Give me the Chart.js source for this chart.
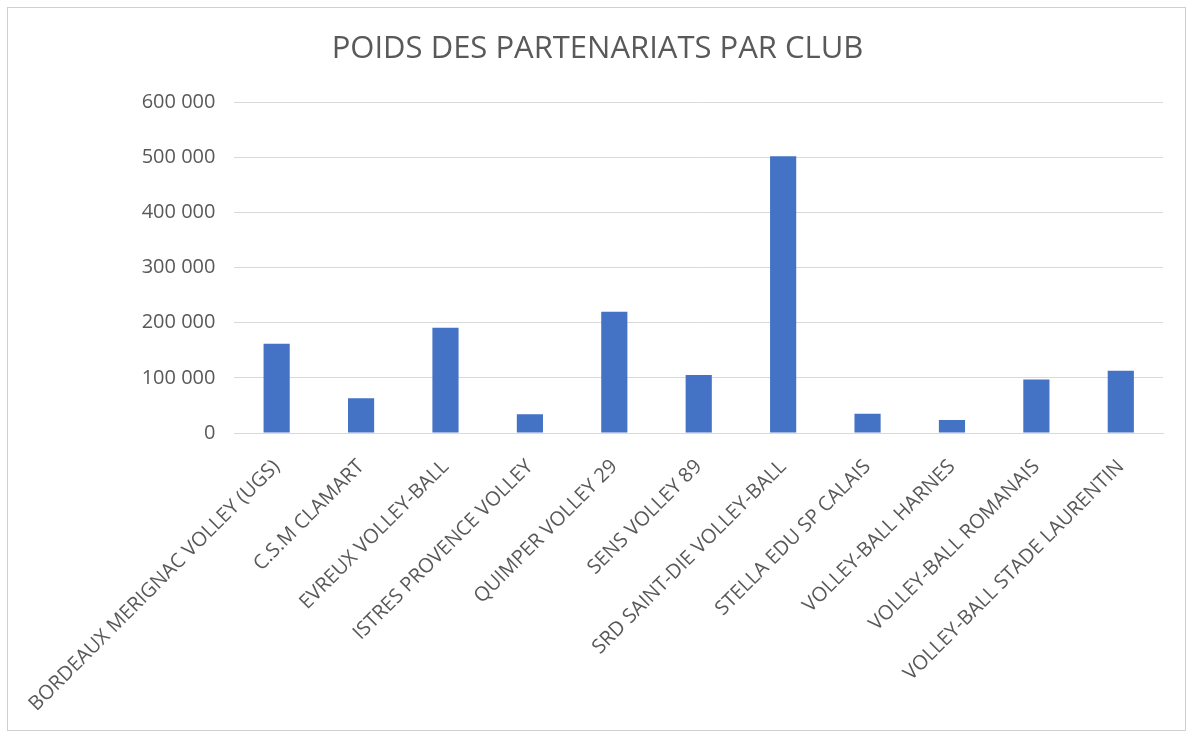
<!DOCTYPE html>
<html>
<head>
<meta charset="utf-8">
<script src="https://cdn.jsdelivr.net/npm/chart.js@4/dist/chart.umd.min.js"></script>
<style>
  html, body { margin: 0; padding: 0; background: #ffffff; }
  #wrap { position: relative; width: 1192px; height: 737px; }
</style>
</head>
<body>
<div id="wrap"><canvas id="c" width="1192" height="737"></canvas></div>
<script>
const categories = [
  "BORDEAUX MERIGNAC VOLLEY (UGS)",
  "C.S.M CLAMART",
  "EVREUX VOLLEY-BALL",
  "ISTRES PROVENCE VOLLEY",
  "QUIMPER VOLLEY 29",
  "SENS VOLLEY 89",
  "SRD SAINT-DIE VOLLEY-BALL",
  "STELLA EDU SP CALAIS",
  "VOLLEY-BALL HARNES",
  "VOLLEY-BALL ROMANAIS",
  "VOLLEY-BALL STADE LAURENTIN"
];
const values = [162000, 63000, 191000, 34000, 220000, 105000, 502000, 35000, 23500, 97000, 113000];
const yTicks = [0, 100000, 200000, 300000, 400000, 500000, 600000];
const chartTitle = "POIDS DES PARTENARIATS PAR CLUB";

const fmt = v => String(v).replace(/\B(?=(\d{3})+(?!\d))/g, " ");

const framePlugin = {
  id: 'frame',
  afterDraw(chart) {
    const ctx = chart.ctx;
    ctx.save();
    ctx.strokeStyle = '#d0d0d0';
    ctx.lineWidth = 1;
    ctx.strokeRect(7.5, 7.5, 1178, 723);
    ctx.restore();
  }
};

new Chart(document.getElementById('c'), {
  type: 'bar',
  data: {
    labels: categories,
    datasets: [{
      data: values,
      backgroundColor: '#4472c4',
      borderWidth: 0,
      categoryPercentage: 1.0,
      barPercentage: 0.31
    }]
  },
  options: {
    responsive: false,
    animation: false,
    devicePixelRatio: 1,
    layout: { padding: { left: 32, right: 29, top: 20, bottom: 10 } },
    plugins: {
      legend: { display: false },
      tooltip: { enabled: false },
      title: {
        display: true,
        text: chartTitle,
        color: '#595959',
        font: { family: 'Open Sans', size: 31, weight: 'normal', lineHeight: 1.2 },
        padding: { top: 11, bottom: 34 }
      }
    },
    scales: {
      x: {
        grid: { display: false, drawTicks: false },
        border: { display: true, color: '#d9d9d9', width: 1 },
        ticks: {
          color: '#595959',
          font: { family: 'Open Sans', size: 20 },
          minRotation: 45,
          maxRotation: 45,
          autoSkip: false,
          padding: 22
        },
        afterFit(scale) { scale.height = 737 - 433 - 10; }
      },
      y: {
        min: 0,
        max: 600000,
        afterBuildTicks(scale) { scale.ticks = yTicks.map(v => ({ value: v })); },
        grid: { color: '#d9d9d9', lineWidth: 1, drawTicks: false },
        border: { display: false },
        ticks: {
          color: '#595959',
          font: { family: 'Open Sans', size: 20 },
          padding: 19,
          callback: v => fmt(v)
        },
        afterFit(scale) { scale.width = 232 - 32; }
      }
    }
  },
  plugins: [framePlugin]
});
</script>
</body>
</html>
